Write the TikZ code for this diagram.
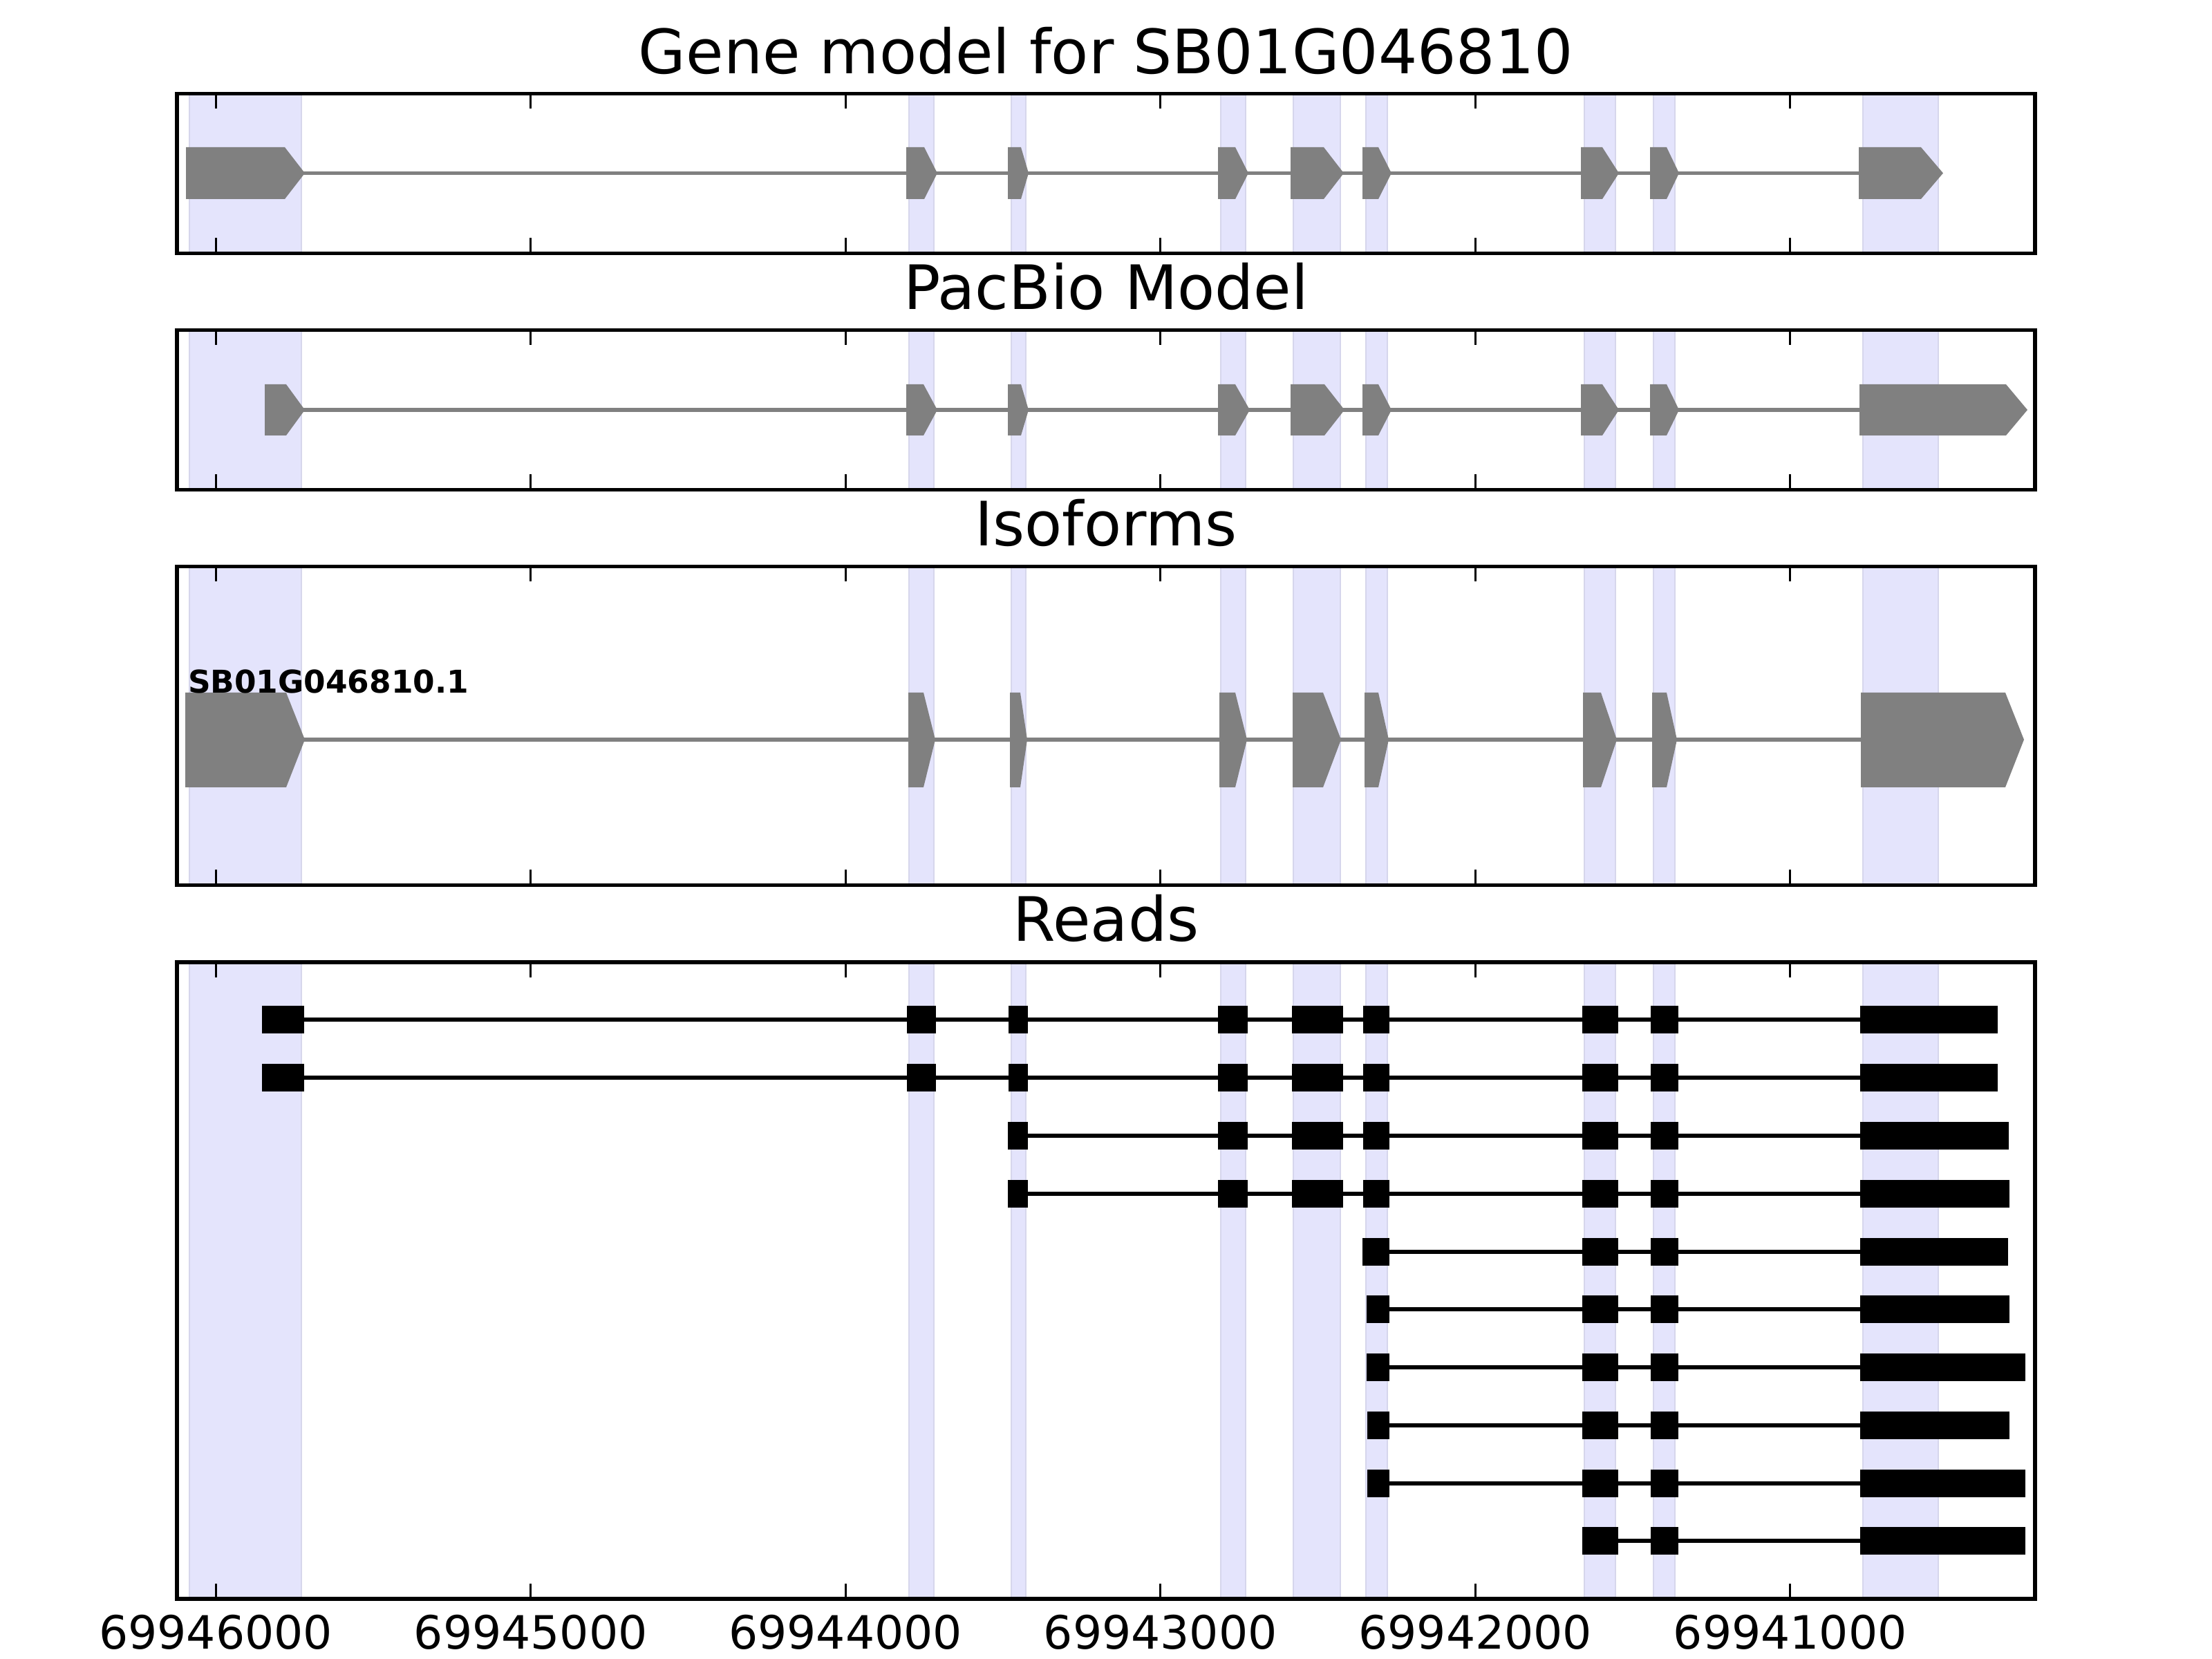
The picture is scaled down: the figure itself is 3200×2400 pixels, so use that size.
\documentclass[tikz,border=0pt]{standalone}
\usepackage{fontspec}
\setmainfont{DejaVu Sans}
\definecolor{exongray}{RGB}{128,128,128}
\definecolor{bandfill}{RGB}{228,228,252}
\definecolor{bandedge}{RGB}{214,214,236}
\newcommand{\exonpoly}[6]{% x0, body end, tip, ytop, ybot, ymid
  \fill[exongray] (#1,#4) -- (#2,#4) -- (#3,#6) -- (#2,#5) -- (#1,#5) -- cycle;}
\begin{document}
\begin{tikzpicture}[x=0.18bp,y=-0.18bp,
  band/.style={fill=bandfill,draw=bandedge,line width=0.5bp},
  intron/.style={draw=exongray,line width=1bp},
  readline/.style={draw=black,line width=1bp},
  readbox/.style={fill=black,draw=black,line width=0.3bp},
  spine/.style={draw=black,line width=1bp},
  tickmark/.style={draw=black,line width=0.5bp},
  paneltitle/.style={font=\fontsize{16}{19}\selectfont,anchor=base,inner sep=0pt},
  ticklabel/.style={font=\fontsize{12}{14}\selectfont,anchor=base,inner sep=0pt},
  isolabel/.style={font=\bfseries\fontsize{8.2}{10}\selectfont,anchor=base west,inner sep=0pt}]
\useasboundingbox[fill=white] (0,0) rectangle (3200,2400);

% ---------- shaded exon bands in every panel ----------
\foreach \t/\bt in {135.5/366.5,477.5/708.5,819.5/1280.5,1392/2313}{
  \foreach \a/\b in {274/436,1315/1351,1463/1484,1766/1802,1871/1939,1976/2007,2292/2337,2392/2423,2695/2804}{
    \draw[band] (\a,\t) rectangle (\b,\bt);
  }
}

% ---------- Panel 1: gene model ----------
\draw[intron] (269,250.5) -- (2689,250.5);
\foreach \p/\q/\r in {269/412/441,1311/1337/1356,1458/1477/1488,1762/1787/1806,1867/1915/1944,1971/1994/2013,2287/2318/2342,2387/2411/2429,2689/2779/2811}{
  \exonpoly{\p}{\q}{\r}{213}{288}{250.5}
}

% ---------- Panel 2: PacBio model ----------
\draw[intron] (383,593) -- (2690,593);
\foreach \p/\q/\r in {383/414/441,1311/1336/1356,1458/1477/1488,1762/1787/1808,1867/1916/1945,1971/1994/2013,2287/2318/2342,2387/2411/2429,2690/2902/2933}{
  \exonpoly{\p}{\q}{\r}{556}{630}{593}
}

% ---------- Panel 3: isoforms ----------
\draw[intron] (268,1070) -- (2692,1070);
\foreach \p/\q/\r in {268/414/441,1314/1336/1353,1461/1476/1486,1764/1787/1804,1870/1914/1940,1974/1994/2009,2290/2316/2339,2390/2411/2426,2692/2901/2928}{
  \exonpoly{\p}{\q}{\r}{1002}{1139}{1070}
}
\node[isolabel] (isoname) at (271,1003) {SB01G046810.1};

% ---------- Panel 4: reads ----------
% rows 1-2
\foreach \y/\e in {1475/2889,1559/2889}{
  \draw[readline] (380,\y) -- (2692,\y);
  \foreach \a/\b in {380/439,1313/1353,1460/1486,1763/1804,1870/1942,1973/2009,2290/2340,2389/2427,2692/\e}{
    \draw[readbox] (\a,\y-19) rectangle (\b,\y+19);
  }
}
% rows 3-4
\foreach \y/\e in {1643/2905,1727/2906}{
  \draw[readline] (1459,\y) -- (2692,\y);
  \foreach \a/\b in {1459/1486,1763/1804,1870/1942,1973/2009,2290/2340,2389/2427,2692/\e}{
    \draw[readbox] (\a,\y-19) rectangle (\b,\y+19);
  }
}
% rows 5-9
\foreach \y/\s/\e in {1811/1972/2904,1894/1978/2906,1978/1978/2929,2062/1979/2906,2146/1979/2929}{
  \draw[readline] (\s,\y) -- (2692,\y);
  \foreach \a/\b in {\s/2009,2290/2340,2389/2427,2692/\e}{
    \draw[readbox] (\a,\y-19) rectangle (\b,\y+19);
  }
}
% row 10
\draw[readline] (2290,2229) -- (2692,2229);
\foreach \a/\b in {2290/2340,2389/2427,2692/2929}{
  \draw[readbox] (\a,2229-19) rectangle (\b,2229+19);
}

% ---------- axes frames and ticks ----------
\foreach \t/\bt in {135.5/366.5,477.5/708.5,819.5/1280.5,1392/2313}{
  \foreach \x in {312.3,767.8,1223.3,1678.8,2134.3,2589.8}{
    \draw[tickmark] (\x,\t) -- ++(0,22);
    \draw[tickmark] (\x,\bt) -- ++(0,-22);
  }
  \draw[spine] (256,\t) rectangle (2944,\bt);
}

% ---------- titles ----------
\node[paneltitle] (t1) at (1600,107) {Gene model for SB01G046810};
\node[paneltitle] (t2) at (1600,448) {PacBio Model};
\node[paneltitle] (t3) at (1600,790) {Isoforms};
\node[paneltitle] (t4) at (1600,1362) {Reads};

% ---------- tick labels ----------
\node[ticklabel] (l1) at (312.3,2386) {69946000};
\node[ticklabel] (l2) at (767.8,2386) {69945000};
\node[ticklabel] (l3) at (1223.3,2386) {69944000};
\node[ticklabel] (l4) at (1678.8,2386) {69943000};
\node[ticklabel] (l5) at (2134.3,2386) {69942000};
\node[ticklabel] (l6) at (2589.8,2386) {69941000};
\end{tikzpicture}
\end{document}
